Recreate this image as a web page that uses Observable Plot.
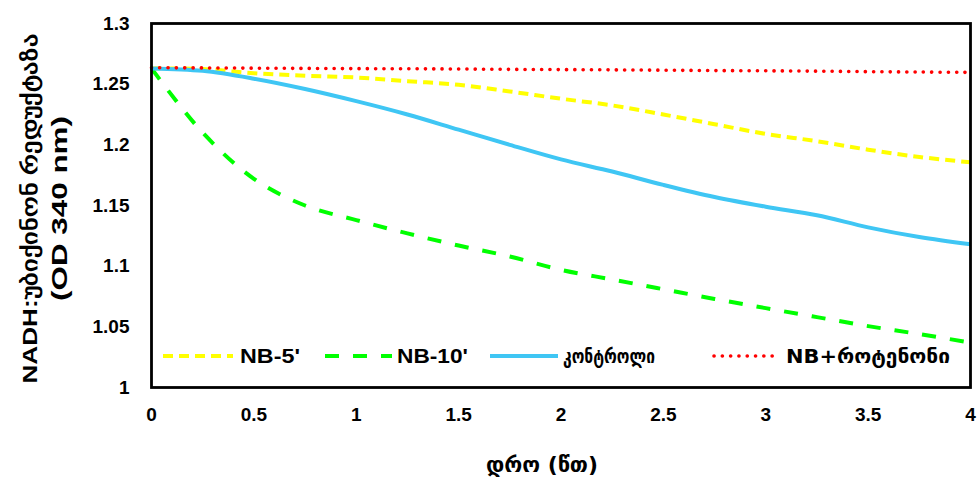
<!DOCTYPE html>
<html>
<head>
<meta charset="utf-8">
<script src="https://cdn.jsdelivr.net/npm/d3@7"></script>
<script src="https://cdn.jsdelivr.net/npm/@observablehq/plot@0.6"></script>
<style>
  html, body { margin: 0; padding: 0; background: #fff; }
  #wrap { position: relative; width: 978px; height: 486px; }
  #legend { position: absolute; left: 0; top: 0; pointer-events: none; }
</style>
</head>
<body>
<div id="wrap"></div>
<script>
const time = [0, 0.25, 0.5, 0.75, 1, 1.25, 1.5, 1.75, 2, 2.25, 2.5, 2.75, 3, 3.25, 3.5, 3.75, 4];
const nb5 = [1.263, 1.2625, 1.259, 1.257, 1.2555, 1.2525, 1.2495, 1.244, 1.238, 1.2325, 1.225, 1.217, 1.209, 1.203, 1.196, 1.190, 1.1856];
const nb10 = [1.263, 1.210, 1.172, 1.150, 1.138, 1.127, 1.117, 1.108, 1.097, 1.089, 1.081, 1.073, 1.0654, 1.058, 1.0506, 1.044, 1.037];
const control = [1.263, 1.261, 1.2545, 1.246, 1.236, 1.225, 1.2125, 1.200, 1.188, 1.178, 1.167, 1.157, 1.149, 1.142, 1.132, 1.124, 1.118];
const rotenone = [1.2635, 1.2634, 1.2632, 1.263, 1.2628, 1.2627, 1.2625, 1.2622, 1.262, 1.2618, 1.2615, 1.2612, 1.261, 1.2607, 1.2603, 1.26, 1.2597];

const seriesNames = ["NB-5'", "NB-10'", "კონტროლი", "NB+როტენონი"];
const seriesValues = [nb5, nb10, control, rotenone];
const seriesColors = ["#FFFF00", "#00FF00", "#3FC6F4", "#FF0000"];
const seriesDash = ["10,6", "14,14", null, "0.1,8.2"];
const seriesWidth = [4, 4, 4, 3.6];

const xTicks = [0, 0.5, 1, 1.5, 2, 2.5, 3, 3.5, 4];
const yTicks = [1, 1.05, 1.1, 1.15, 1.2, 1.25, 1.3];
const yTitle1 = "NADH:უბიქინონ რედუქტაზა";
const yTitle2 = "(OD 340 nm)";
const xTitle = "დრო (წთ)";

const rows = [];
seriesNames.forEach((name, i) => {
  time.forEach((t, j) => rows.push({series: name, t, v: seriesValues[i][j]}));
});

const font = "'Liberation Sans', Arial, sans-serif";
const geo = "'DejaVu Sans', sans-serif";
const lineMarks = seriesNames.map((name, i) => Plot.line(rows.filter(d => d.series === name), {
  x: "t", y: "v", stroke: seriesColors[i], strokeWidth: seriesWidth[i],
  strokeDasharray: seriesDash[i], strokeLinecap: i === 3 ? "round" : "butt",
  curve: "catmull-rom"
}));

const chart = Plot.plot({
  width: 978, height: 486,
  marginLeft: 151, marginRight: 8, marginTop: 23, marginBottom: 99,
  style: {fontFamily: font, fontSize: "19px", fontWeight: "bold", color: "#000", background: "#fff"},
  x: {domain: [0, 4]},
  y: {domain: [1, 1.3]},
  marks: [
    Plot.axisX(xTicks, {tickSize: 0, tickPadding: 20, fontSize: 19, fontWeight: "bold", label: null, tickFormat: d => String(d)}),
    Plot.axisY(yTicks, {tickSize: 0, tickPadding: 22, fontSize: 19, fontWeight: "bold", label: null, tickFormat: d => String(d)}),
    ...lineMarks,
    Plot.frame({stroke: "#000", strokeWidth: 2.8}),
    Plot.text([yTitle1], {frameAnchor: "left", rotate: -90, dx: -121, dy: 3, fontSize: 21, fontWeight: "bold", textAnchor: "middle", lineAnchor: "middle", fill: "#000"}),
    Plot.text([yTitle2], {frameAnchor: "left", rotate: -90, dx: -92, dy: 3, fontSize: 22, fontWeight: "bold", textAnchor: "middle", lineAnchor: "middle", fill: "#000"}),
    Plot.text([xTitle], {frameAnchor: "bottom", dx: -19, dy: 84, fontSize: 21, fontWeight: "bold", fill: "#000", fontFamily: geo})
  ]
});

const wrap = document.getElementById("wrap");
wrap.appendChild(chart);

function stretch(label, len) {
  chart.querySelectorAll("text").forEach(t => {
    if (t.textContent.trim() === label) {
      t.setAttribute("textLength", len);
      t.setAttribute("lengthAdjust", "spacingAndGlyphs");
    }
  });
}
stretch(yTitle1, 350);
stretch(yTitle2, 185);
stretch(xTitle, 112);

// legend overlay (inside plot, bottom row)
const legendSwatchX = [163, 325, 490, 714];
const legendSwatchEnd = [233, 392, 558, 776];
const legendTextX = [240, 397, 563, 786];
const legendTextLen = [60, 71, 92, 164];
const legendY = 356;
const leg = d3.select(wrap).append("svg").attr("id", "legend").attr("width", 978).attr("height", 486);
seriesNames.forEach((name, i) => {
  leg.append("line")
    .attr("x1", legendSwatchX[i]).attr("x2", legendSwatchEnd[i])
    .attr("y1", legendY).attr("y2", legendY)
    .attr("stroke", seriesColors[i]).attr("stroke-width", seriesWidth[i])
    .attr("stroke-dasharray", seriesDash[i])
    .attr("stroke-linecap", i === 3 ? "round" : "butt");
  const isGeo = /[\u10A0-\u10FF]/.test(name);
  leg.append("text")
    .attr("x", legendTextX[i]).attr("y", legendY).attr("dy", "0.35em")
    .attr("font-family", isGeo ? geo : font).attr("font-weight", "bold")
    .attr("font-size", isGeo ? 19 : 20)
    .attr("textLength", legendTextLen[i]).attr("lengthAdjust", "spacingAndGlyphs")
    .text(name);
});
</script>
</body>
</html>
